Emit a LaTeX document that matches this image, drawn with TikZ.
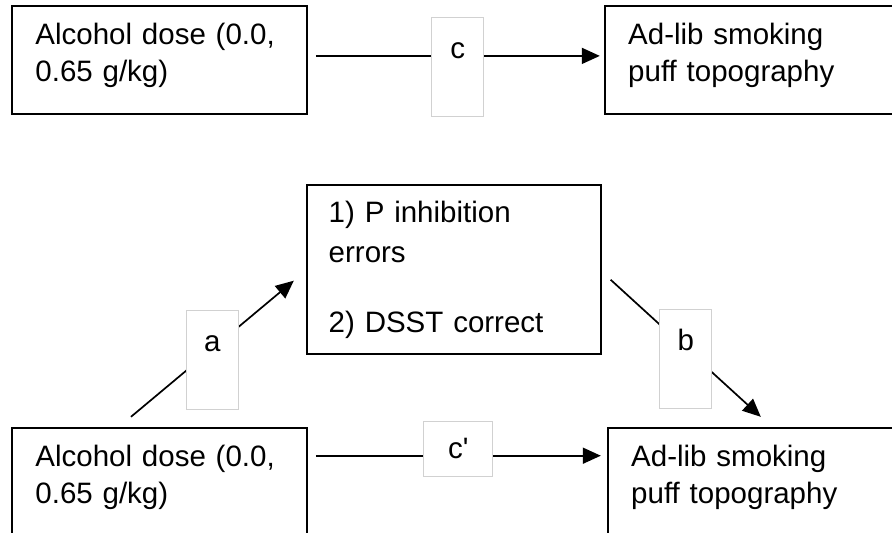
\documentclass[tikz,border=0pt]{standalone}
\usepackage{fontspec}
\setmainfont{Liberation Sans}
\usetikzlibrary{arrows.meta,positioning}

\begin{document}
\begin{tikzpicture}[x=1pt,y=-1pt,>={Triangle[length=18pt,width=16pt]},
  line width=1.7pt,
  var node/.style={rectangle,draw,line width=1.8pt,anchor=north west,
    font=\fontsize{29.5}{37}\selectfont,align=left,
    inner xsep=23.5pt,inner ysep=0pt,text width=248pt,
    text height=39pt,text depth=69pt},
  med node/.style={var node,inner xsep=22pt,text width=250pt,
    text height=38pt,text depth=131pt},
  path node/.style={rectangle,draw=black!18,line width=0.8pt,fill=white,
    font=\fontsize{29.5}{37}\selectfont,inner sep=0pt,anchor=mid,
    minimum width=52pt,text height=41pt,text depth=58pt}]
  \useasboundingbox (0,0) rectangle (892,533);
  \clip (0,0) rectangle (892,533);

  % total effect
  \node[var node] (dose) at (11,5) {Alcohol dose (0.0,\\0.65 g/kg)};
  \node[var node, right=296pt of dose] (smoke) {Ad-lib smoking\\puff topography};

  % mediation model
  \node[med node, below right=69pt and -2pt of dose] (med)
    {1) P inhibition\\[3pt]errors\\[33pt]2) DSST correct};
  \node[var node, below=312pt of dose] (dose2) {Alcohol dose (0.0,\\0.65 g/kg)};
  \node[var node, right=299pt of dose2] (smoke2) {Ad-lib smoking\\puff topography};

  \draw[->] ([xshift=8pt,yshift=4pt]dose.east)
    -- node[path node] (c) {c} ([xshift=-4pt,yshift=4pt]smoke.west);
  \draw[->] ([xshift=120pt,yshift=10pt]dose2.north west)
    -- node[path node] (a) {a} ([xshift=-12pt,yshift=-11.5pt]med.west);
  \draw[->] ([xshift=9pt,yshift=-10.5pt]med.east)
    -- node[path node] (b) {b} ([xshift=154pt,yshift=10pt]smoke2.north west);
  \draw[->] ([xshift=8pt,yshift=26pt]dose2.east)
    -- node[path node,minimum width=69pt,text height=37pt,text depth=18pt] (cp)
       {c\textquotesingle} ([xshift=-6pt,yshift=26pt]smoke2.west);
\end{tikzpicture}
\end{document}
